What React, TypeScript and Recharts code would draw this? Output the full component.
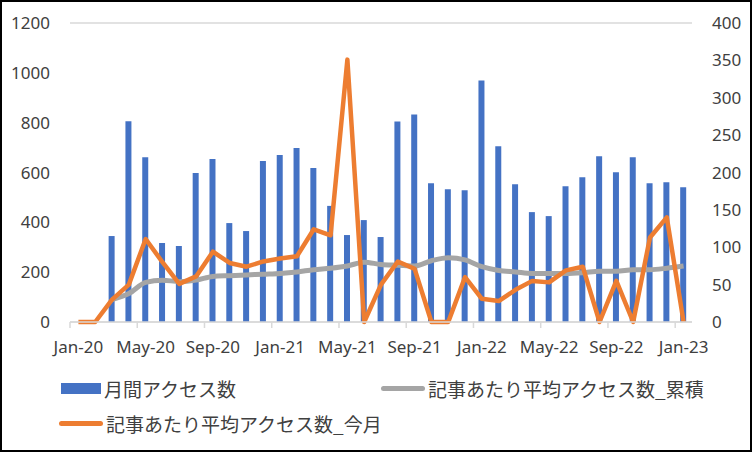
import React from "react";
import {
  ComposedChart,
  Bar,
  Line,
  XAxis,
  YAxis,
  CartesianGrid,
  Legend,
} from "recharts";

// Monthly data, Jan-20 .. Jan-23
const months = [
  "Jan-20", "Feb-20", "Mar-20", "Apr-20", "May-20", "Jun-20", "Jul-20", "Aug-20", "Sep-20", "Oct-20", "Nov-20", "Dec-20",
  "Jan-21", "Feb-21", "Mar-21", "Apr-21", "May-21", "Jun-21", "Jul-21", "Aug-21", "Sep-21", "Oct-21", "Nov-21", "Dec-21",
  "Jan-22", "Feb-22", "Mar-22", "Apr-22", "May-22", "Jun-22", "Jul-22", "Aug-22", "Sep-22", "Oct-22", "Nov-22", "Dec-22",
  "Jan-23",
];

// 月間アクセス数 (left axis)
const monthlyAccess = [
  0, 0, 345, 806, 661, 317, 305, 598, 654, 397, 365, 646,
  670, 698, 618, 466, 349, 409, 341, 805, 833, 557, 533, 529,
  969, 705, 553, 441, 425, 545, 581, 665, 601, 661, 557, 561,
  541,
];

// 記事あたり平均アクセス数_累積 (right axis)
const avgCumulative = [
  null, null, 30, 38, 53, 56, 54, 56, 61, 62, 63, 64,
  65, 67, 70, 72, 75, 80, 77, 76, 75, 82, 86, 83,
  74, 69, 67, 65, 65, 65, 66, 68, 68, 70, 70, 72,
  75,
];

// 記事あたり平均アクセス数_今月 (right axis)
const avgThisMonth = [
  0, 0, 30, 50, 111, 80, 51, 61, 94, 79, 74, 81,
  85, 88, 124, 116, 351, 0, 50, 81, 71, 0, 0, 60,
  31, 28, 43, 55, 53, 69, 74, 0, 55, 0, 113, 140,
  0,
];

const leftTicks = [0, 200, 400, 600, 800, 1000, 1200];
const rightTicks = [0, 50, 100, 150, 200, 250, 300, 350, 400];

const BLUE = "#4472C4";
const GRAY = "#A5A5A5";
const ORANGE = "#ED7D31";
const TEXT = "#404040";
const FONT = "'Noto Sans', sans-serif";
const JP_FONT = "'Noto Sans CJK JP', sans-serif";

const data = months.map((m, i) => ({
  month: m,
  access: monthlyAccess[i] || null,
  cum: avgCumulative[i],
  cur: avgThisMonth[i],
}));

const MonthTick = (props: any) => {
  const { x, y, payload } = props;
  const half = 8.4;
  return (
    <g>
      <line x1={x - half} x2={x - half} y1={y - 8} y2={y - 2} stroke="#d9d9d9" strokeWidth={1.5} />
      <text x={x} y={y + 23} textAnchor="middle" fill={TEXT} fontSize={17} fontFamily={FONT}>
        {payload.value}
      </text>
    </g>
  );
};

// positions are in page coordinates (legend box starts at y=370)
const legendItems = [
  { label: "月間アクセス数", color: BLUE, kind: "rect", x: 61, y: 388 },
  { label: "記事あたり平均アクセス数_累積", color: GRAY, kind: "line", x: 381, y: 388 },
  { label: "記事あたり平均アクセス数_今月", color: ORANGE, kind: "line", x: 59, y: 423 },
];

const LegendContent = () => (
  <div style={{ position: "relative", width: 752, height: 70 }}>
    {legendItems.map((it) => (
      <div
        key={it.label}
        style={{ position: "absolute", left: it.x, top: it.y - 370 - 14, height: 28, display: "flex", alignItems: "center" }}
      >
        {it.kind === "rect" ? (
          <span style={{ display: "inline-block", width: 40, height: 11, background: it.color }} />
        ) : (
          <span style={{ display: "inline-block", width: 44, height: 5, borderRadius: 3, background: it.color }} />
        )}
        <span
          style={{
            marginLeft: 3,
            fontFamily: JP_FONT,
            fontSize: 19,
            color: TEXT,
            whiteSpace: "nowrap",
            display: "inline-block",
          }}
        >
          {it.label}
        </span>
      </div>
    ))}
  </div>
);

export default function App() {
  return (
    <div
      style={{
        position: "absolute",
        left: 0,
        top: 0,
        width: 752,
        height: 452,
        boxSizing: "border-box",
        border: "2px solid #000",
        background: "#fff",
      }}
    >
      <div style={{ position: "absolute", left: -2, top: -2 }}>
        <ComposedChart
          width={752}
          height={452}
          data={data}
          margin={{ top: 23, right: 8, left: 8, bottom: 20 }}
          barCategoryGap={0}
        >
          <CartesianGrid vertical={false} stroke="#d9d9d9" strokeWidth={1.5} />
          <XAxis
            dataKey="month"
            interval={3}
            height={40}
            axisLine={{ stroke: "#d9d9d9", strokeWidth: 1.5 }}
            tickLine={false}
            tick={<MonthTick />}
          />
          <YAxis
            yAxisId="left"
            width={62}
            domain={[0, 1200]}
            ticks={leftTicks}
            axisLine={false}
            tickLine={false}
            tick={{ fill: TEXT, fontSize: 17, fontFamily: FONT }}
            tickMargin={14}
          />
          <YAxis
            yAxisId="right"
            orientation="right"
            width={52}
            domain={[0, 400]}
            ticks={rightTicks}
            axisLine={false}
            tickLine={false}
            tick={{ fill: TEXT, fontSize: 17, fontFamily: FONT }}
            tickMargin={14}
          />
          <Bar yAxisId="left" dataKey="access" fill={BLUE} barSize={6} isAnimationActive={false} />
          <Line
            yAxisId="right"
            type="monotone"
            dataKey="cum"
            stroke={GRAY}
            strokeWidth={5}
            dot={false}
            isAnimationActive={false}
          />
          <Line
            yAxisId="right"
            type="linear"
            dataKey="cur"
            stroke={ORANGE}
            strokeWidth={4.5}
            dot={false}
            strokeLinejoin="round"
            isAnimationActive={false}
          />
          <Legend
            verticalAlign="bottom"
            content={<LegendContent />}
            wrapperStyle={{ left: 0, top: 370, height: 70, width: 752 }}
          />
        </ComposedChart>
      </div>
    </div>
  );
}
